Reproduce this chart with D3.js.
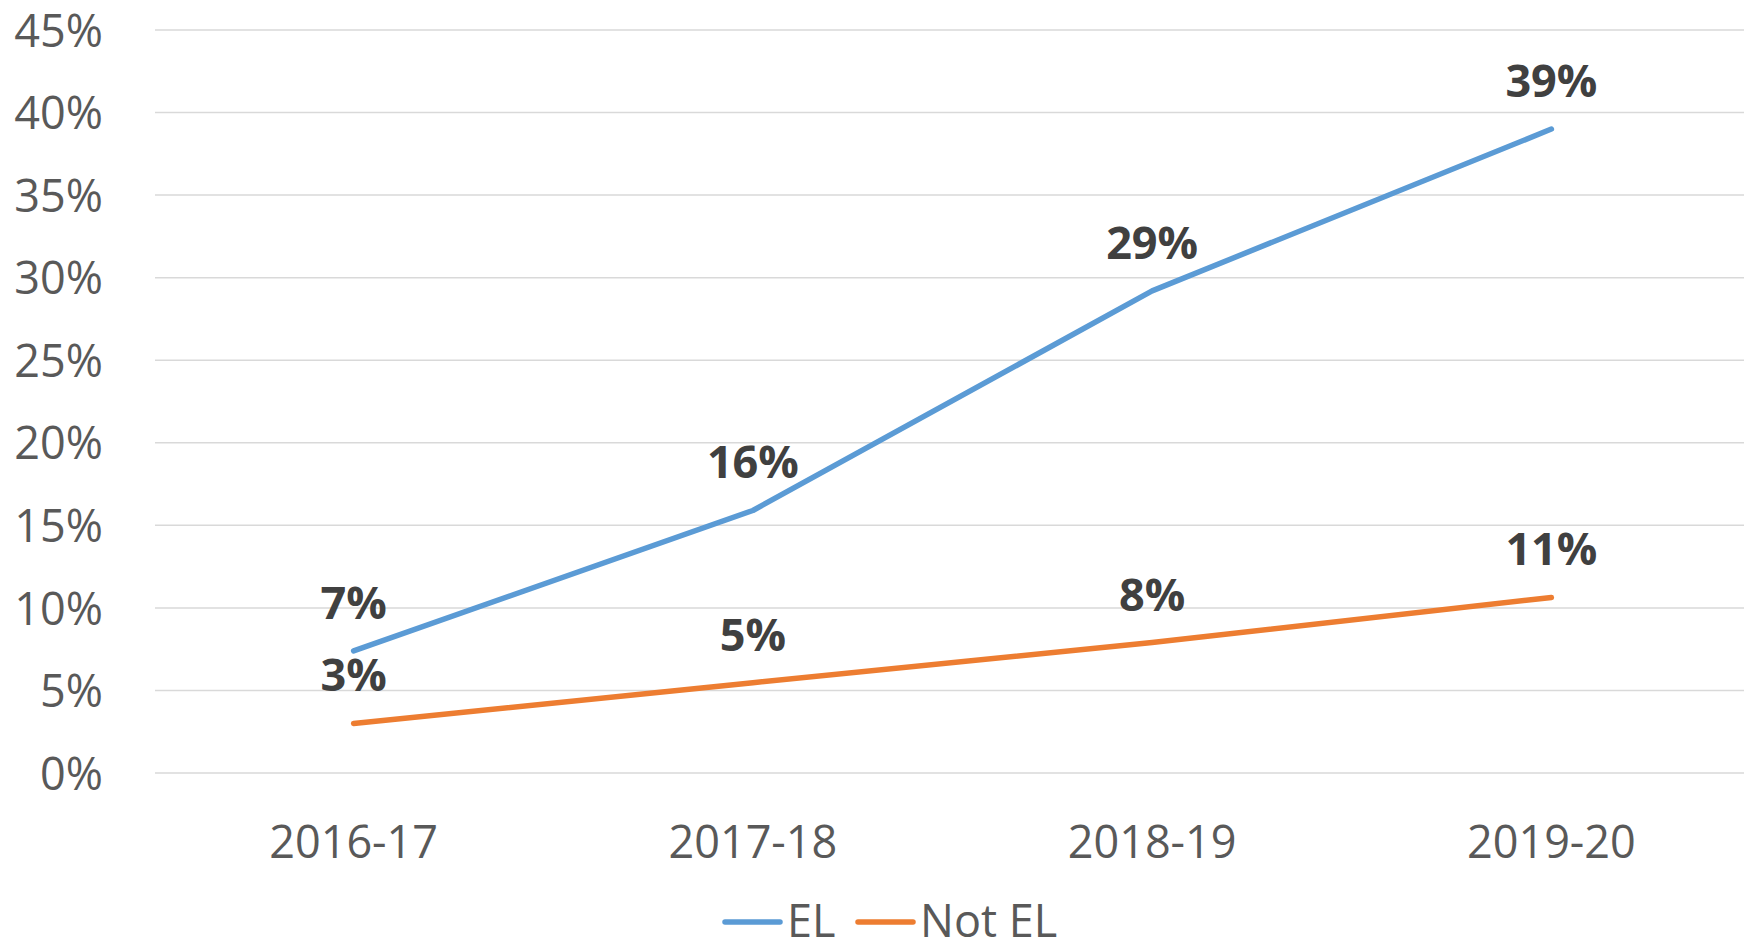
<!DOCTYPE html>
<html>
<head>
<meta charset="utf-8">
<script src="https://cdn.jsdelivr.net/npm/d3@7"></script>
<style>
  body { margin: 0; background: #fff; }
  svg { display: block; font-family: "Open Sans", sans-serif; }
</style>
</head>
<body>
<div id="chart"></div>
<script>
// data
const years = ['2016-17', '2017-18', '2018-19', '2019-20'];
const elValues = [0.074, 0.159, 0.292, 0.390];
const notElValues = [0.030, 0.0547, 0.079, 0.1063];
const yTicks = [0, 0.05, 0.10, 0.15, 0.20, 0.25, 0.30, 0.35, 0.40, 0.45];
const seriesNames = ['EL', 'Not EL'];
const seriesColors = ['#5B9BD5', '#ED7D31'];

const W = 1744, H = 949;
const svg = d3.select('#chart').append('svg')
              .attr('width', W)
              .attr('height', H);

const x = d3.scaleBand().domain(years).range([154, 1751]);
const y = d3.scaleLinear().domain([0, 0.45]).range([773, 30]);
const xc = d => x(d) + x.bandwidth()/2;

// gridlines
svg.append('g')
   .selectAll('line')
   .data(yTicks)
   .join('line')
   .attr('x1', 155)
   .attr('x2', W)
   .attr('y1', d => y(d))
   .attr('y2', d => y(d))
   .attr('stroke', '#d9d9d9')
   .attr('stroke-width', 1.5);

// y tick labels
svg.append('g')
   .selectAll('text')
   .data(yTicks)
   .join('text')
   .attr('x', 103)
   .attr('y', d => y(d))
   .attr('dy', '0.37em')
   .attr('text-anchor', 'end')
   .attr('font-size', 45)
   .attr('fill', '#595959')
   .text(d3.format('.0%'));

// x labels
svg.append('g')
   .selectAll('text')
   .data(years)
   .join('text')
   .attr('x', xc)
   .attr('y', 858)
   .attr('text-anchor', 'middle')
   .attr('font-size', 45)
   .attr('fill', '#595959')
   .text(d => d);

const series = [elValues, notElValues];
const line = d3.line()
               .x((d, i) => xc(years[i]))
               .y(d => y(d));

series.forEach((vals, s) => {
  svg.append('path')
     .datum(vals)
     .attr('d', line)
     .attr('fill', 'none')
     .attr('stroke', seriesColors[s])
     .attr('stroke-width', 5.5)
     .attr('stroke-linecap', 'round')
     .attr('stroke-linejoin', 'round');

  svg.append('g')
     .selectAll('text')
     .data(vals)
     .join('text')
     .attr('x', (d, i) => xc(years[i]))
     .attr('y', d => y(d) - 32)
     .attr('text-anchor', 'middle')
     .attr('font-size', 45)
     .attr('font-weight', 'bold')
     .attr('fill', '#404040')
     .text(d3.format('.0%'));
});

// legend (raised a little so the text is not clipped at the bottom edge)
const legendX = [725, 858];
const legend = svg.append('g');
seriesNames.forEach((name, s) => {
  legend.append('line')
        .attr('x1', legendX[s])
        .attr('x2', legendX[s] + 55)
        .attr('y1', 922)
        .attr('y2', 922)
        .attr('stroke', seriesColors[s])
        .attr('stroke-width', 5.5)
        .attr('stroke-linecap', 'round');
  legend.append('text')
        .attr('x', legendX[s] + 62)
        .attr('y', 937)
        .attr('font-size', 45)
        .attr('fill', '#595959')
        .text(name);
});
</script>
</body>
</html>
